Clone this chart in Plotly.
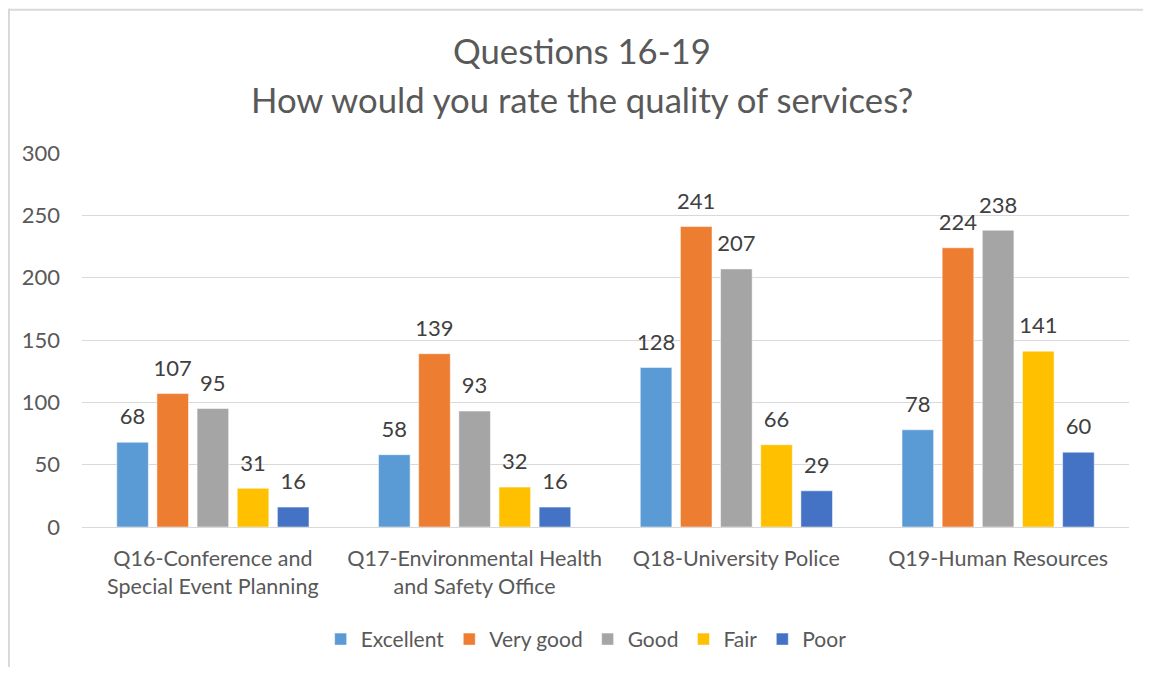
import plotly.graph_objects as go

categories = [
    "Q16-Conference and<br>Special Event Planning",
    "Q17-Environmental Health<br>and Safety Office",
    "Q18-University Police",
    "Q19-Human Resources",
]
series_names = ["Excellent", "Very good", "Good", "Fair", "Poor"]
excellent = [68, 58, 128, 78]
very_good = [107, 139, 241, 224]
good = [95, 93, 207, 238]
fair = [31, 32, 66, 141]
poor = [16, 16, 29, 60]
series_values = [excellent, very_good, good, fair, poor]
colors = ["#5B9BD5", "#ED7D31", "#A5A5A5", "#FFC000", "#4472C4"]
y_ticks = [0, 50, 100, 150, 200, 250, 300]

FONT = "Lato, Open Sans, sans-serif"
TXT = "#595959"
LBL = "#404040"

BARGAP = 0.233
BARGROUPGAP = 0.213
n_series = len(series_names)
slot = (1 - BARGAP) / n_series

fig = go.Figure()
for name, vals, col in zip(series_names, series_values, colors):
    fig.add_trace(go.Bar(
        x=categories, y=vals, name=name,
        marker=dict(color=col, line=dict(color="white", width=0.5)),
        hoverinfo="x+y+name",
    ))

# data labels (positioned on a hidden linear axis matching the category slots)
for j, vals in enumerate(series_values):
    xs = [i + (j - (n_series - 1) / 2) * slot for i in range(len(categories))]
    fig.add_trace(go.Scatter(
        x=xs, y=vals, xaxis="x2", mode="markers+text",
        text=[str(v) for v in vals], textposition="top center",
        textfont=dict(family=FONT, size=22, color=LBL),
        marker=dict(size=18, color="rgba(0,0,0,0)"),
        showlegend=False, hoverinfo="skip", cliponaxis=False,
    ))

OFF = 8  # page body margin
W, H = 1151 - 2 * OFF, 675 - 2 * OFF
p_left, p_right, p_top, p_bottom = 82, 1128.7, 152.5, 527.3  # page pixels
L = p_left - OFF
R = (W + OFF) - p_right
T = p_top - OFF
B = (H + OFF) - p_bottom
pw, ph = p_right - p_left, p_bottom - p_top

def px_x(x):
    return (x - p_left) / pw

def px_y(y):
    return (p_bottom - y) / ph

fig.update_layout(
    width=W, height=H,
    margin=dict(l=L, r=R, t=T, b=B, pad=0, autoexpand=False),
    paper_bgcolor="white", plot_bgcolor="white",
    barmode="group", bargap=BARGAP, bargroupgap=BARGROUPGAP,
    font=dict(family=FONT, color=TXT, size=21),
    showlegend=True,
    legend=dict(orientation="h", x=px_x(586), xanchor="center",
                y=px_y(640), yanchor="middle",
                font=dict(family=FONT, size=21, color=TXT),
                itemwidth=30, traceorder="normal"),
    yaxis=dict(range=[0, 300], tickvals=y_ticks, showgrid=True,
               gridcolor="#D9D9D9", gridwidth=1, zeroline=False,
               showline=False, ticks="", ticklabelstandoff=21,
               tickfont=dict(family=FONT, size=22, color=TXT)),
    xaxis=dict(range=[-0.5, 3.5], showline=True, linecolor="#D9D9D9",
               linewidth=1, ticks="", ticklabelstandoff=12,
               tickfont=dict(family=FONT, size=21.5, color=TXT)),
    xaxis2=dict(range=[-0.5, 3.5], overlaying="x", visible=False,
                fixedrange=True),
    annotations=[
        dict(text="Questions 16-19", xref="paper", yref="paper",
             x=px_x(582), y=px_y(50), xanchor="center",
             yanchor="middle", showarrow=False,
             font=dict(family=FONT, size=34.7, color=TXT)),
        dict(text="How would you rate the quality of services?", xref="paper",
             yref="paper", x=px_x(582), y=px_y(99),
             xanchor="center", yanchor="middle", showarrow=False,
             font=dict(family=FONT, size=34.7, color=TXT)),
    ],
    shapes=[
        dict(type="line", xref="paper", yref="paper",
             x0=px_x(OFF + 1), x1=px_x(OFF + 1),
             y0=px_y(700), y1=px_y(OFF),
             line=dict(color="#D9D9D9", width=2), layer="below"),
        dict(type="line", xref="paper", yref="paper",
             x0=px_x(OFF), x1=px_x(1200),
             y0=px_y(OFF + 1), y1=px_y(OFF + 1),
             line=dict(color="#D9D9D9", width=2), layer="below"),
    ],
)

fig.write_html("out.html")
